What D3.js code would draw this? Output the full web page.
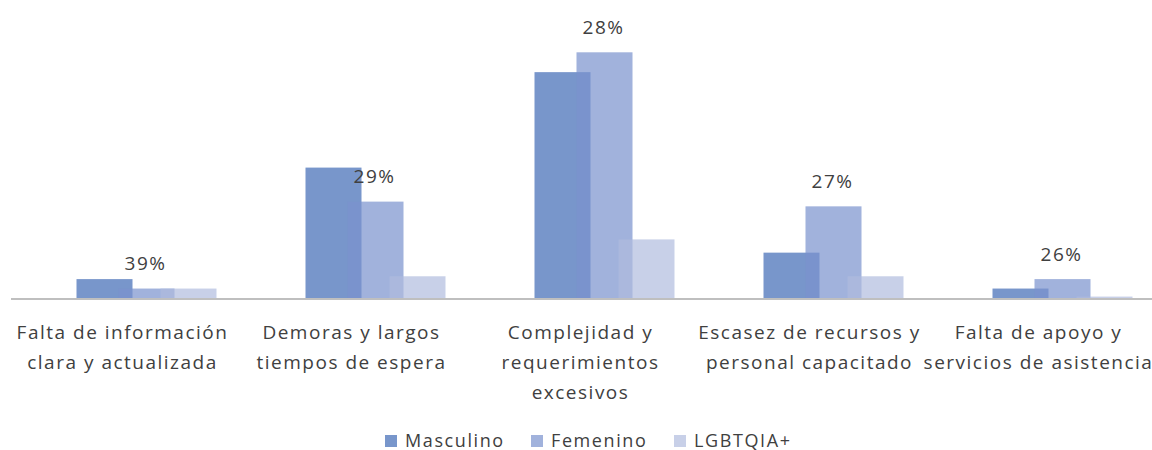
<!DOCTYPE html>
<html>
<head>
<meta charset="utf-8">
<script src="https://cdn.jsdelivr.net/npm/d3@7"></script>
<style>
  body { margin: 0; background: #fff; }
  text { font-family: "Open Sans", sans-serif; fill: #404040; }
</style>
</head>
<body>
<div id="chart"></div>
<script>
var categories = [
  "Falta de información\nclara y actualizada",
  "Demoras y largos\ntiempos de espera",
  "Complejidad y\nrequerimientos\nexcesivos",
  "Escasez de recursos y\npersonal capacitado",
  "Falta de apoyo y\nservicios de asistencia"
];
var seriesNames = ["Masculino", "Femenino", "LGBTQIA+"];
var masculino = [2.0, 13.8, 23.9, 4.8, 1.0];
var femenino = [1.0, 10.2, 26.0, 9.7, 2.0];
var lgbt = [1.0, 2.3, 6.2, 2.3, 0.15];
var pctLabels = ["39%", "29%", "28%", "27%", "26%"];

var seriesValues = [masculino, femenino, lgbt];
var colors = ["rgb(120,150,203)", "rgba(122,147,206,0.71)", "rgba(175,187,222,0.69)"];

var width = 1152, height = 450;
var baseline = 298;

var svg = d3.select("#chart")
  .append("svg")
  .attr("width", width)
  .attr("height", height);

var x = d3.scaleBand()
  .domain(d3.range(categories.length))
  .range([7, 7 + 229 * categories.length]);

// position of each series bar inside a category (overlapping bars)
var sub = d3.scaleLinear().domain([0, 2]).range([-45, 39]);
var barW = 56;

var y = d3.scaleLinear()
  .domain([0, 30])
  .range([baseline, baseline - 30 * 9.45]);

seriesValues.forEach(function(vals, s) {
  svg.append("g")
    .attr("class", "series")
    .selectAll("rect")
    .data(vals)
    .enter()
    .append("rect")
    .attr("x", function(d, i) { return x(i) + x.bandwidth() / 2 + sub(s); })
    .attr("y", function(d) { return y(d); })
    .attr("width", barW)
    .attr("height", function(d) { return y(0) - y(d); })
    .style("fill", colors[s]);
});

// axis line
svg.append("line")
  .attr("x1", 11)
  .attr("x2", width)
  .attr("y1", baseline + 1)
  .attr("y2", baseline + 1)
  .attr("stroke", "#bfbfbf")
  .attr("stroke-width", 2);

// percentage labels above the group
svg.append("g")
  .selectAll("text")
  .data(pctLabels)
  .enter()
  .append("text")
  .attr("x", function(d, i) { return x(i) + x.bandwidth() / 2 + 24; })
  .attr("y", function(d, i) { return y(femenino[i]) - 25; })
  .attr("dy", "0.35em")
  .attr("text-anchor", "middle")
  .style("font-size", "19px")
  .style("letter-spacing", "1.5px")
  .text(function(d) { return d; });

// category labels
var catLabels = svg.append("g")
  .selectAll("text")
  .data(categories)
  .enter()
  .append("text")
  .attr("text-anchor", "middle")
  .style("font-size", "19px")
  .style("letter-spacing", "1.5px");

catLabels.selectAll("tspan")
  .data(function(d, i) {
    return d.split("\n").map(function(line) { return { line: line, i: i }; });
  })
  .enter()
  .append("tspan")
  .attr("x", function(d) { return x(d.i) + x.bandwidth() / 2 + 1; })
  .attr("y", function(d, j) { return 332 + j * 30; })
  .attr("dy", "0.35em")
  .text(function(d) { return d.line; });

// legend
var legendX = [385, 531, 674];
var legend = svg.append("g")
  .attr("class", "legend")
  .selectAll("g")
  .data(seriesNames)
  .enter()
  .append("g");

legend.append("rect")
  .attr("x", function(d, i) { return legendX[i]; })
  .attr("y", 435)
  .attr("width", 12)
  .attr("height", 12)
  .style("fill", function(d, i) { return colors[i]; });

legend.append("text")
  .attr("x", function(d, i) { return legendX[i] + 20; })
  .attr("y", 441)
  .attr("dy", "0.35em")
  .style("font-size", "18px")
  .style("letter-spacing", "1.6px")
  .text(function(d) { return d; });
</script>
</body>
</html>
